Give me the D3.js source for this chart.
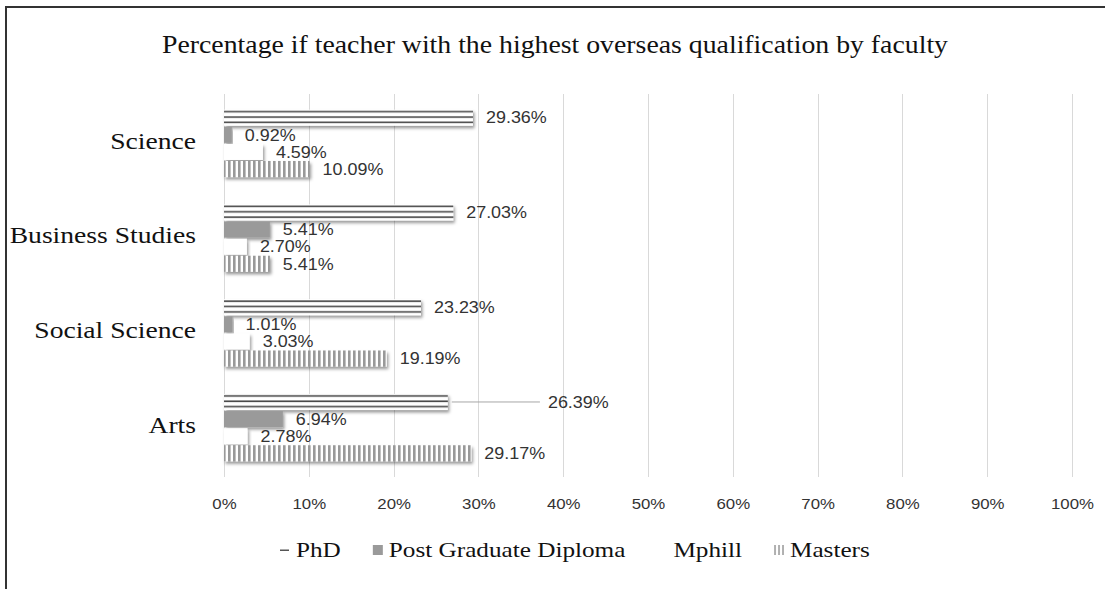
<!DOCTYPE html>
<html>
<head>
<meta charset="utf-8">
<script src="https://cdn.jsdelivr.net/npm/d3@7"></script>
<style>
  body { margin: 0; background: #fff; }
  svg { display: block; }
</style>
</head>
<body>
<svg id="chart" width="1105" height="589"></svg>
<script>
// categories top to bottom, series inside each group top to bottom
var categories = ["Science", "Business Studies", "Social Science", "Arts"];
var seriesNames = ["PhD", "Post Graduate Diploma", "Mphill", "Masters"];

// percentages per category (same order as categories)
var phd = [29.36, 27.03, 23.23, 26.39];
var postGradDiploma = [0.92, 5.41, 1.01, 6.94];
var mphill = [4.59, 2.70, 3.03, 2.78];
var masters = [10.09, 5.41, 19.19, 29.17];

var xTicks = [0, 10, 20, 30, 40, 50, 60, 70, 80, 90, 100];

var titleText = "Percentage if teacher with the highest  overseas qualification  by faculty";

// build rows from the arrays
var values = [phd, postGradDiploma, mphill, masters];
var data = categories.map(function(c, i) {
  return {
    category: c,
    bars: seriesNames.map(function(s, j) { return {key: s, value: values[j][i], category: c}; })
  };
});

var svg = d3.select("#chart"),
    margin = {top: 96, right: 33, bottom: 114, left: 224},
    width = +svg.attr("width") - margin.left - margin.right,
    height = +svg.attr("height") - margin.top - margin.bottom;

var serif = "'Liberation Serif', 'Times New Roman', serif",
    sans = "'Liberation Sans', Arial, sans-serif";

// the picture is a bit wider than tall, so text gets widened
function stretch(sel, k) {
  sel.each(function() {
    var w = this.getComputedTextLength();
    d3.select(this).attr("textLength", w * k).attr("lengthAdjust", "spacingAndGlyphs");
  });
}

// patterns + shadow
var defs = svg.append("defs");

var phdPat = defs.append("pattern")
    .attr("id", "pat-phd")
    .attr("patternUnits", "objectBoundingBox")
    .attr("width", 1).attr("height", 1 / 3);
phdPat.append("rect").attr("width", 2000).attr("height", 20).attr("fill", "#fff");
phdPat.append("rect").attr("y", 1.2).attr("width", 2000).attr("height", 1.6).attr("fill", "#4a4a4a");

var mastersPat = defs.append("pattern")
    .attr("id", "pat-masters")
    .attr("patternUnits", "userSpaceOnUse")
    .attr("x", margin.left).attr("width", 5).attr("height", 10);
mastersPat.append("rect").attr("width", 5).attr("height", 10).attr("fill", "#fff");
mastersPat.append("rect").attr("width", 2.6).attr("height", 10).attr("fill", "#999");

var mastersLeg = defs.append("pattern")
    .attr("id", "pat-masters-leg")
    .attr("patternUnits", "userSpaceOnUse")
    .attr("width", 4).attr("height", 10);
mastersLeg.append("rect").attr("width", 4).attr("height", 10).attr("fill", "#fff");
mastersLeg.append("rect").attr("width", 2).attr("height", 10).attr("fill", "#b0b0b0");

var shadow = defs.append("filter").attr("id", "shadow")
    .attr("x", "-5%").attr("y", "-30%").attr("width", "120%").attr("height", "180%");
shadow.append("feDropShadow")
    .attr("dx", 1.5).attr("dy", 2.5).attr("stdDeviation", 1.6)
    .attr("flood-color", "#000").attr("flood-opacity", 0.4);

var fills = d3.scaleOrdinal()
    .domain(seriesNames)
    .range(["url(#pat-phd)", "#9a9a9a", "#ffffff", "url(#pat-masters)"]);

// outer frame (only left and top edges show)
svg.append("line").attr("x1", 6).attr("x2", 6).attr("y1", 7).attr("y2", 589)
    .attr("stroke", "#333").attr("stroke-width", 2);
svg.append("line").attr("x1", 5).attr("x2", 1105).attr("y1", 7).attr("y2", 7)
    .attr("stroke", "#333").attr("stroke-width", 2);

// title, squeezed into the width it takes in the picture
svg.append("text")
    .attr("x", 555).attr("y", 53)
    .attr("text-anchor", "middle")
    .attr("font-family", serif).attr("font-size", 25)
    .attr("fill", "#111")
    .attr("textLength", 786).attr("lengthAdjust", "spacingAndGlyphs")
    .text(titleText);

var g = svg.append("g").attr("transform", "translate(" + margin.left + "," + margin.top + ")");

var x = d3.scaleLinear().domain([0, 100]).range([0, width]);

var y0 = d3.scaleBand().domain(categories).range([0, height]).padding(0);

var y1 = d3.scaleBand().domain(seriesNames)
    .range([0, y0.bandwidth()])
    .paddingInner(0.06).paddingOuter(0.8);

// grid
g.append("g").selectAll("line")
  .data(xTicks)
  .enter().append("line")
    .attr("x1", function(d) { return Math.round(x(d)) + 0.5; })
    .attr("x2", function(d) { return Math.round(x(d)) + 0.5; })
    .attr("y1", -2).attr("y2", height + 2)
    .attr("stroke", "#d9d9d9").attr("stroke-width", 1);

// x axis labels
var xAxis = g.append("g")
    .attr("transform", "translate(0," + (height + 20) + ")")
    .call(d3.axisBottom(x).tickValues(xTicks).tickSize(0).tickFormat(function(d) { return d + "%"; }));
xAxis.select(".domain").remove();
xAxis.selectAll("text")
    .attr("font-family", sans).attr("font-size", 15).attr("fill", "#333")
    .call(stretch, 1.12);

// category labels
var yAxis = g.append("g")
    .attr("transform", "translate(-25,0)")
    .call(d3.axisLeft(y0).tickSize(0));
yAxis.select(".domain").remove();
yAxis.selectAll("text")
    .attr("font-family", serif).attr("font-size", 24).attr("fill", "#111")
    .attr("dy", "0.22em")
    .call(stretch, 1.15);

// bars
var groups = g.append("g").selectAll("g")
  .data(data)
  .enter().append("g")
    .attr("transform", function(d) { return "translate(0," + y0(d.category) + ")"; });

groups.selectAll("rect")
  .data(function(d) { return d.bars; })
  .enter().append("rect")
    .attr("x", 0)
    .attr("y", function(d) { return y1(d.key); })
    .attr("width", function(d) { return x(d.value); })
    .attr("height", y1.bandwidth())
    .attr("fill", function(d) { return fills(d.key); })
    .attr("filter", "url(#shadow)");

// data labels; the Arts PhD label was dragged out with a leader line
var calloutAt = 38.2;
function isCallout(d) { return d.category === "Arts" && d.key === "PhD"; }

groups.selectAll("line.leader")
  .data(function(d) { return d.bars.filter(isCallout); })
  .enter().append("line")
    .attr("class", "leader")
    .attr("x1", function(d) { return x(d.value) + 4; })
    .attr("x2", x(calloutAt) - 8)
    .attr("y1", function(d) { return y1(d.key) + y1.bandwidth() / 2; })
    .attr("y2", function(d) { return y1(d.key) + y1.bandwidth() / 2; })
    .attr("stroke", "#a6a6a6").attr("stroke-width", 1);

groups.selectAll("text")
  .data(function(d) { return d.bars; })
  .enter().append("text")
    .attr("x", function(d) { return isCallout(d) ? x(calloutAt) : x(d.value) + 13; })
    .attr("y", function(d) { return y1(d.key) + y1.bandwidth() / 2; })
    .attr("dy", "0.36em")
    .attr("font-family", sans).attr("font-size", 16).attr("fill", "#333")
    .text(function(d) { return d.value.toFixed(2) + "%"; })
    .call(stretch, 1.12);

// legend
var legend = svg.append("g").attr("transform", "translate(280,550)");
var lx = 0;
seriesNames.forEach(function(name) {
  var item = legend.append("g").attr("transform", "translate(" + lx + ",0)");
  var mk = item.append("rect").attr("x", 0).attr("y", -5).attr("width", 10).attr("height", 10);
  if (name === "PhD") {
    mk.attr("fill", "#fff");
    item.append("rect").attr("x", 0).attr("y", -0.5).attr("width", 9).attr("height", 1.5).attr("fill", "#555");
  } else if (name === "Masters") {
    mk.attr("fill", "url(#pat-masters-leg)");
  } else {
    mk.attr("fill", fills(name));
  }
  var t = item.append("text")
      .attr("x", 16).attr("dy", "0.33em")
      .attr("font-family", serif).attr("font-size", 21).attr("fill", "#111")
      .text(name)
      .call(stretch, 1.2);
  lx += 16 + +t.attr("textLength") + 32;
});
</script>
</body>
</html>
